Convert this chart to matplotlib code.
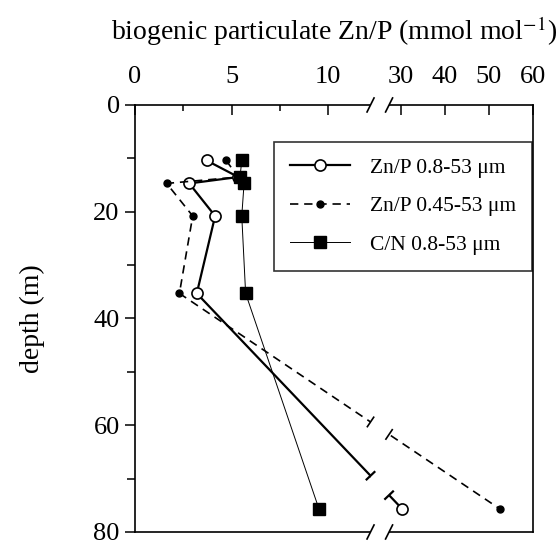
import numpy as np
import matplotlib.pyplot as plt
from matplotlib.patches import Rectangle
from matplotlib.transforms import blended_transform_factory

plt.rcParams['font.family'] = ['Liberation Serif', 'DejaVu Serif']
plt.rcParams['mathtext.fontset'] = 'stix'

# ---------------- data ----------------
depth = [10.4, 13.5, 14.7, 20.8, 35.3, 75.7]
depth_cn = [10.4, 13.5, 14.7, 20.8, 35.3, 75.7]

znp_08 = [3.71, 5.35, 2.81, 4.15, 3.2, 30.3]
znp_045 = [4.72, 5.35, 1.64, 2.99, 2.3, 52.5]
cn_08 = [5.53, 5.44, 5.65, 5.53, 5.73, 9.53]

x_ticks = [0, 5, 10, 30, 40, 50, 60]
x_minor = [2.5, 7.5]
y_ticks = [0, 20, 40, 60, 80]
y_minor = [10, 30, 50, 70]

# broken x axis: 0..L shown at full scale, R..60 compressed
L, R = 12.2, 27.3
GAP = 0.96
K = 0.228


def fwd(x):
    x = np.asarray(x, dtype=float)
    return np.where(x <= L, x,
                    np.where(x <= R, L + (x - L) / (R - L) * GAP,
                             L + GAP + (x - R) * K))


def inv(u):
    u = np.asarray(u, dtype=float)
    return np.where(u <= L, u,
                    np.where(u <= L + GAP, L + (u - L) / GAP * (R - L),
                             R + (u - L - GAP) / K))


fig = plt.figure(figsize=(5.59, 5.45), dpi=100)
ax = fig.add_axes([0.2415, 0.0239, 0.7120, 0.7835])
ax.set_xscale('function', functions=(fwd, inv))
ax.set_xlim(0, 60)
ax.set_ylim(80, 0)

ax.plot(znp_08, depth, '-', color='black', lw=1.6, marker='o', ms=8,
        mfc='white', mec='black', mew=1.2, label='Zn/P 0.8-53 μm', zorder=2)
ax.plot(znp_045, depth, '--', color='black', lw=1.2, marker='o', ms=5,
        mfc='black', mec='black', dashes=(5, 3.5), label='Zn/P 0.45-53 μm', zorder=2)
ax.plot(cn_08, depth_cn, '-', color='black', lw=0.7, marker='s', ms=8,
        mfc='black', mec='black', label='C/N 0.8-53 μm', zorder=2)

# ticks
ax.xaxis.tick_top()
ax.xaxis.set_label_position('top')
ax.set_xticks(x_ticks)
ax.set_xticklabels([str(t) for t in x_ticks])
ax.set_xticks(x_minor, minor=True)
ax.set_yticks(y_ticks)
ax.set_yticks(y_minor, minor=True)
ax.tick_params(axis='x', which='major', direction='in', length=7, width=1.1,
               labelsize=19, pad=12)
ax.tick_params(axis='x', which='minor', direction='in', length=4, width=1.1)
ax.tick_params(axis='y', which='major', direction='out', length=7, width=1.1,
               labelsize=19, pad=4)
ax.tick_params(axis='y', which='minor', direction='out', length=6, width=1.1)
for s in ax.spines.values():
    s.set_linewidth(1.2)

ax.set_xlabel('biogenic particulate Zn/P (mmol mol$^{-1}$)', fontsize=20, labelpad=19)
ax.set_ylabel('depth (m)', fontsize=20, labelpad=35)

# white band over the break
bt = blended_transform_factory(ax.transData, ax.transAxes)
ax.add_patch(Rectangle((L, -0.02), R - L, 1.04, transform=bt, facecolor='white',
                       edgecolor='none', clip_on=False, zorder=3))

# slashes on top and bottom spines
to_ax = ax.transAxes.inverted()
for xb in (L, R):
    xd = ax.transData.transform((xb, 0))[0]
    for ya in (0, 1):
        yd = ax.transAxes.transform((0, ya))[1]
        p = to_ax.transform([(xd - 3.5, yd - 7), (xd + 3.5, yd + 7)])
        ax.plot(p[:, 0], p[:, 1], color='black', lw=1.2, transform=ax.transAxes,
                clip_on=False, zorder=4)

# end caps where the lines cross the break
to_data = ax.transData.inverted()
for xs, lw in ((znp_08, 1.6), (znp_045, 1.2)):
    p0 = ax.transData.transform((xs[-2], depth[-2]))
    p1 = ax.transData.transform((xs[-1], depth[-1]))
    d = (p1 - p0) / np.hypot(*(p1 - p0))
    n = np.array([-d[1], d[0]])
    for xb in (L, R):
        xd = ax.transData.transform((xb, 0))[0]
        t = (xd - p0[0]) / (p1[0] - p0[0])
        c = p0 + t * (p1 - p0)
        q = to_data.transform([c - 6.5 * n, c + 6.5 * n])
        ax.plot(q[:, 0], q[:, 1], color='black', lw=lw, solid_capstyle='butt',
                zorder=4, clip_on=False)

leg = ax.legend(loc='upper right', bbox_to_anchor=(0.997, 0.914), fontsize=15.5,
                frameon=True, fancybox=False, edgecolor='black', handlelength=2.8,
                labelspacing=0.85, borderpad=0.75, handletextpad=0.9,
                borderaxespad=0)
leg.get_frame().set_linewidth(1.2)
leg.set_zorder(5)

fig.savefig('out.png', dpi=100)
